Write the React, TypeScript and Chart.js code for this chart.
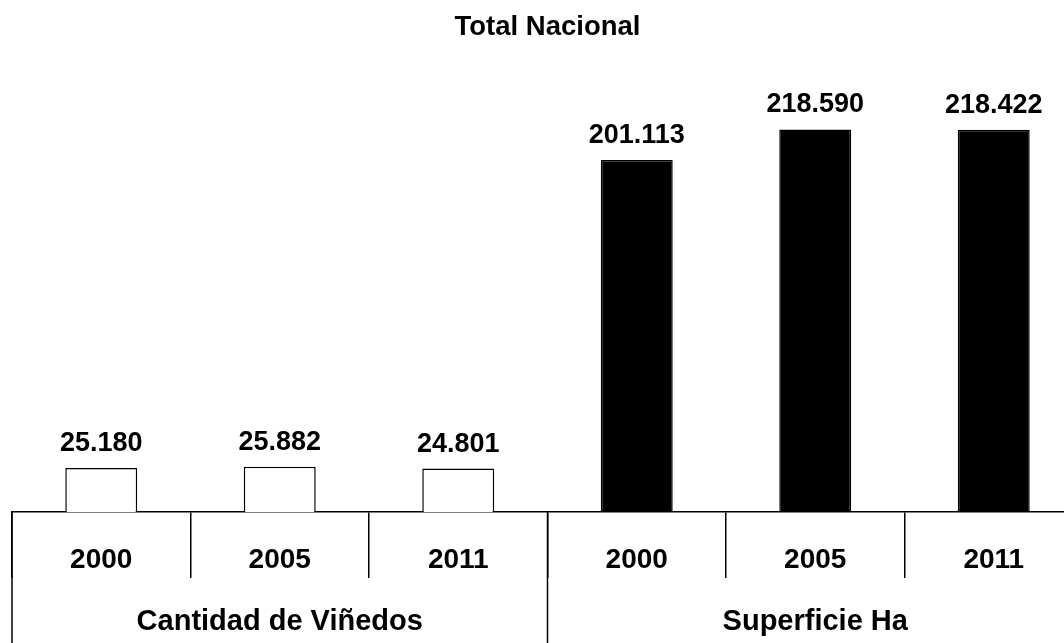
import React, { useEffect, useRef } from "react";
import { Chart, registerables } from "chart.js";

Chart.register(...registerables);

const titleText = "Total Nacional";
const years = ["2000", "2005", "2011", "2000", "2005", "2011"];
const values = [25180, 25882, 24801, 201113, 218590, 218422];
const groups = ["Cantidad de Viñedos", "Superficie Ha"];
const groupSize = 3;
const barColors = ["#ffffff", "#ffffff", "#ffffff", "#000000", "#000000", "#000000"];

const FONT = "'Liberation Sans', Arial, sans-serif";

const fmt = (v: number) => String(v).replace(/\B(?=(\d{3})+(?!\d))/g, ".");

const labelsPlugin = {
  id: "valueLabels",
  afterDatasetsDraw(chart: any) {
    const ctx = chart.ctx;
    const meta = chart.getDatasetMeta(0);
    ctx.save();
    ctx.fillStyle = "#000";
    ctx.font = `bold 27px ${FONT}`;
    ctx.textAlign = "center";
    ctx.textBaseline = "alphabetic";
    meta.data.forEach((bar: any, i: number) => {
      ctx.fillText(fmt(values[i]), bar.x, bar.y - 17);
    });
    ctx.restore();
  },
};

const groupPlugin = {
  id: "groupAxis",
  afterDraw(chart: any) {
    const ctx = chart.ctx;
    const xs = chart.scales.x;
    const bottom = chart.chartArea.bottom;
    const h = chart.height;
    ctx.save();
    ctx.strokeStyle = "#000";
    ctx.lineWidth = 1.5;
    const half = (xs.getPixelForValue(1) - xs.getPixelForValue(0)) / 2;
    for (let g = 0; g <= groups.length; g++) {
      const idx = g * groupSize;
      const x = xs.getPixelForValue(Math.min(idx, years.length - 1)) + (idx >= years.length ? half : -half);
      ctx.beginPath();
      ctx.moveTo(x, bottom);
      ctx.lineTo(x, h);
      ctx.stroke();
    }
    ctx.fillStyle = "#000";
    ctx.font = `bold 29px ${FONT}`;
    ctx.textAlign = "center";
    ctx.textBaseline = "alphabetic";
    groups.forEach((name, g) => {
      const a = xs.getPixelForValue(g * groupSize);
      const b = xs.getPixelForValue(g * groupSize + groupSize - 1);
      ctx.fillText(name, (a + b) / 2, 630);
    });
    ctx.restore();
  },
};

export default function App() {
  const ref = useRef<HTMLCanvasElement | null>(null);
  useEffect(() => {
    if (!ref.current) return;
    const chart = new Chart(ref.current, {
      type: "bar",
      data: {
        labels: years,
        datasets: [
          {
            data: values,
            backgroundColor: barColors,
            borderColor: "#000",
            borderWidth: 1.5,
            barPercentage: 0.403,
            categoryPercentage: 1,
          },
        ],
      },
      options: {
        animation: false,
        responsive: true,
        maintainAspectRatio: false,
        layout: { padding: { left: 12, right: 1, top: 0, bottom: 0 } },
        plugins: {
          legend: { display: false },
          tooltip: { enabled: false },
          title: {
            display: true,
            text: titleText,
            color: "#000",
            font: { family: FONT, size: 27.5, weight: "bold" },
            padding: { top: 11, bottom: 48 },
          },
        },
        scales: {
          y: { display: false, min: 0, max: 240000 },
          x: {
            afterFit: (s: any) => {
              s.height = 131;
            },
            border: { display: true, color: "#000", width: 1.5 },
            grid: {
              offset: true,
              drawOnChartArea: false,
              drawTicks: true,
              tickLength: 66,
              color: "#000",
              lineWidth: 1.5,
            },
            ticks: {
              color: "#000",
              padding: -35,
              font: { family: FONT, size: 28, weight: "bold" },
              maxRotation: 0,
              autoSkip: false,
            },
          },
        },
      },
      plugins: [labelsPlugin, groupPlugin],
    });
    return () => chart.destroy();
  }, []);
  return (
    <div style={{ position: "fixed", left: 0, top: 0, width: 1064, height: 643, overflow: "hidden", background: "#fff" }}>
      <div style={{ position: "absolute", left: 0, top: 0, width: 1084, height: 643 }}>
        <canvas ref={ref} />
      </div>
    </div>
  );
}
